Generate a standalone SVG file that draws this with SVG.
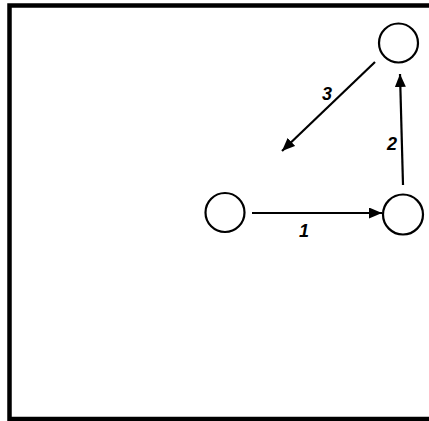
<svg xmlns="http://www.w3.org/2000/svg" width="429" height="421" viewBox="0 0 429 421">
<style>
.node{fill:none;stroke:#000;stroke-width:2.2}
.edge{stroke:#000;stroke-width:2.2;fill:none;marker-end:url(#ah)}
.lbl{font-family:"Liberation Sans",Arial,sans-serif;font-size:18px;font-weight:bold;font-style:italic;fill:#000;text-anchor:middle}
</style>
<defs>
<marker id="ah" viewBox="0 0 13 11" refX="13" refY="5.5" markerWidth="13" markerHeight="11" markerUnits="userSpaceOnUse" orient="auto">
<path d="M0,0 L13,5.5 L0,11 Z" fill="#000"/>
</marker>
</defs>
<rect x="0" y="0" width="429" height="421" fill="#fff"/>
<rect x="9.5" y="5.5" width="440" height="413.5" fill="none" stroke="#000" stroke-width="4.5"/>
<g id="nodeA"><circle class="node" cx="225" cy="212.5" r="19.5"/></g>
<g id="nodeB"><circle class="node" cx="403" cy="214.5" r="20"/></g>
<g id="nodeC"><circle class="node" cx="398.5" cy="43" r="19.5"/></g>
<g id="connectors">
<line class="edge" x1="252" y1="213" x2="382" y2="213"/>
<line class="edge" x1="403" y1="185" x2="400" y2="74"/>
<line class="edge" x1="375" y1="62" x2="282" y2="151"/>
</g>
<g id="labels">
<text class="lbl" x="304" y="237">1</text>
<text class="lbl" x="392" y="150">2</text>
<text class="lbl" x="327" y="100">3</text>
</g>
</svg>
